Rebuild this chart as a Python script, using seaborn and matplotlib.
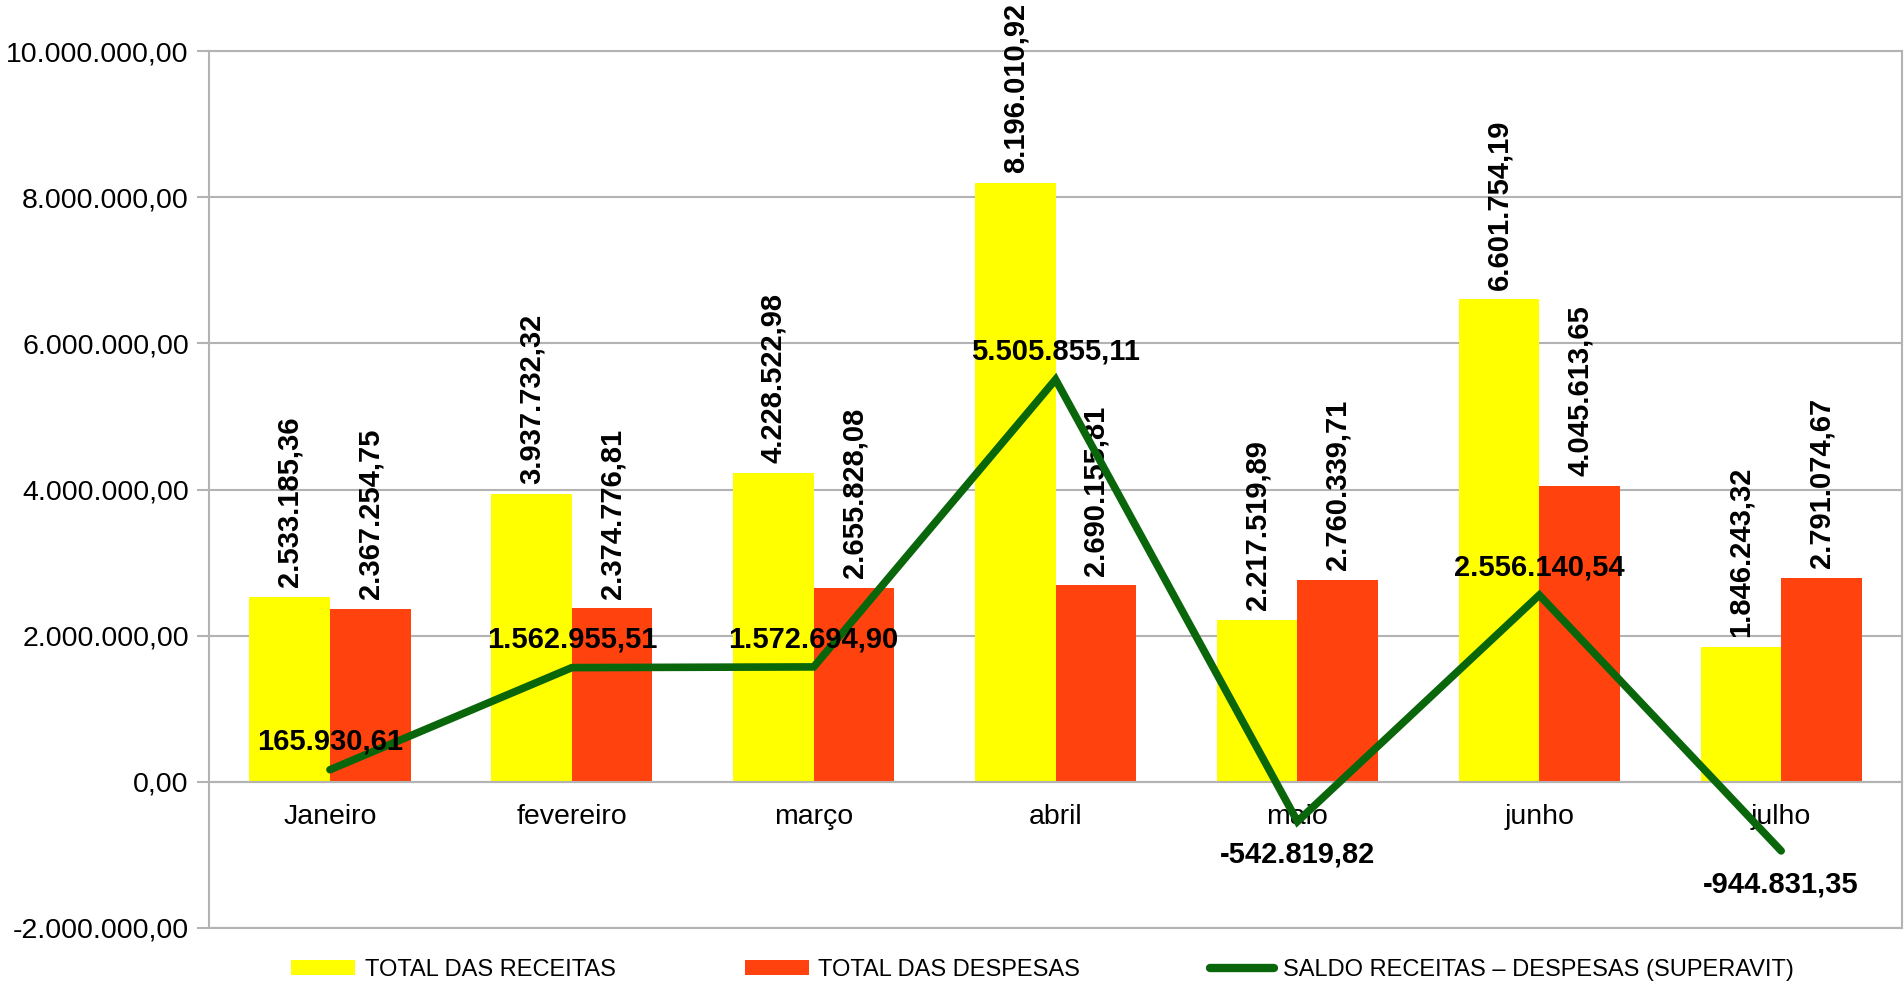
import numpy as np
import pandas as pd
import matplotlib
matplotlib.use("Agg")
import matplotlib.pyplot as plt
from matplotlib.patches import Patch
from matplotlib.lines import Line2D
from matplotlib.ticker import FuncFormatter, FixedLocator
import seaborn as sns

# Data
meses = ["Janeiro", "fevereiro", "março", "abril", "maio", "junho", "julho"]
receitas = [2533185.36, 3937732.32, 4228522.98, 8196010.92, 2217519.89, 6601754.19, 1846243.32]
despesas = [2367254.75, 2374776.81, 2655828.08, 2690155.81, 2760339.71, 4045613.65, 2791074.67]
saldo = [165930.61, 1562955.51, 1572694.90, 5505855.11, -542819.82, 2556140.54, -944831.35]
y_ticks = [-2000000, 0, 2000000, 4000000, 6000000, 8000000, 10000000]

serie_receitas = "TOTAL DAS RECEITAS"
serie_despesas = "TOTAL DAS DESPESAS"
serie_saldo = "SALDO RECEITAS – DESPESAS (SUPERAVIT)"

AMARELO = "#FFFF00"
VERMELHO = "#FF420E"
VERDE = "#0A660A"
CINZA = "#B3B3B3"


def br(v):
    # 1234567.89 -> 1.234.567,89
    return f"{v:,.2f}".replace(",", "X").replace(".", ",").replace("X", ".")


sns.set_style("white")
plt.rcParams["font.family"] = ["Liberation Sans", "DejaVu Sans"]
plt.rcParams["text.color"] = "black"

df = pd.DataFrame({
    "mes": meses * 2,
    "serie": [serie_receitas] * len(meses) + [serie_despesas] * len(meses),
    "valor": receitas + despesas,
})

fig = plt.figure(figsize=(19.04, 9.82), dpi=100)
ax = fig.add_axes([0.1098, 0.055, 0.8892, 0.893])

sns.barplot(data=df, x="mes", y="valor", hue="serie", order=meses,
            hue_order=[serie_receitas, serie_despesas],
            palette=[AMARELO, VERMELHO], saturation=1, width=2 / 3, gap=0,
            linewidth=0, legend=False, errorbar=None, ax=ax, zorder=2)

# rotated value labels on the bars
for cont, vals in zip(ax.containers, [receitas, despesas]):
    ax.bar_label(cont, labels=[br(v) for v in vals], rotation=90, padding=7,
                 fontsize=21, fontweight="bold", color="black", zorder=3)

sns.lineplot(x=np.arange(len(meses)), y=saldo, color=VERDE, linewidth=5.5,
             ax=ax, zorder=4, solid_joinstyle="miter", solid_capstyle="round")

for i, v in enumerate(saldo):
    if v >= 0:
        ax.annotate(br(v), (i, v), xytext=(0, 10), textcoords="offset points",
                    ha="center", va="bottom", fontsize=21, fontweight="bold",
                    color="black", zorder=5)
    else:
        ax.annotate(br(v), (i, v), xytext=(0, -14), textcoords="offset points",
                    ha="center", va="top", fontsize=21, fontweight="bold",
                    color="black", zorder=5)

# axes styling
ax.set_xlim(-0.5, len(meses) - 0.5)
ax.set_ylim(y_ticks[0], y_ticks[-1])
ax.set_yticks(y_ticks)
ax.yaxis.set_major_formatter(FuncFormatter(lambda v, p: br(v)))
ax.set_xlabel("")
ax.set_ylabel("")

ax.grid(axis="y", color=CINZA, linewidth=1.5, zorder=0)
ax.set_axisbelow(True)
for s in ax.spines.values():
    s.set_color(CINZA)
    s.set_linewidth(1.5)
ax.spines["bottom"].set_position(("data", 0))
ax.axhline(y_ticks[0], color=CINZA, linewidth=1.5, clip_on=False, zorder=1)

ax.set_xticks(range(len(meses)))
ax.set_xticklabels(meses)
ax.xaxis.set_minor_locator(FixedLocator(np.arange(0.5, len(meses) - 1, 1)))
ax.tick_params(axis="x", which="major", length=0, pad=16, labelsize=20.5, labelcolor="black")
ax.tick_params(axis="x", which="minor", length=8, width=1.5, color=CINZA, direction="out")
ax.tick_params(axis="y", length=8.6, width=1.5, color=CINZA, pad=6, labelsize=20.5,
               labelcolor="black", left=True)

handles = [
    Patch(facecolor=AMARELO, edgecolor="none", label=serie_receitas),
    Patch(facecolor=VERMELHO, edgecolor="none", label=serie_despesas),
    Line2D([0], [0], color=VERDE, linewidth=6, label=serie_saldo),
]
fig.legend(handles=handles, loc="center left", bbox_to_anchor=(0.153, 0.012),
           ncol=3, frameon=False, fontsize=17, handlelength=2.7, handleheight=0.6,
           handletextpad=0.4, columnspacing=5.5, borderpad=0, borderaxespad=0,
           labelcolor="black")

fig.savefig("out.png", dpi=100)
